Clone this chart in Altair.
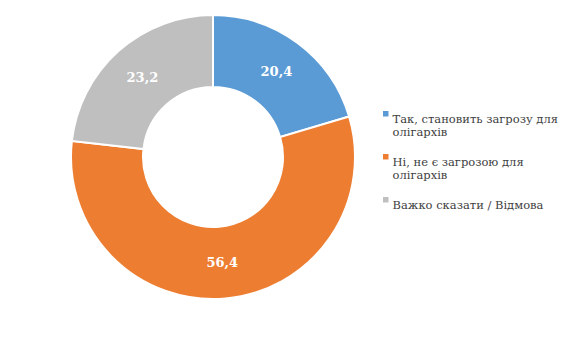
import altair as alt
import pandas as pd

categories = ["Так, становить загрозу для\nолігархів",
              "Ні, не є загрозою для\nолігархів",
              "Важко сказати / Відмова"]
values = [20.4, 56.4, 23.2]
colors = ["#5B9BD5", "#ED7D31", "#BFBFBF"]

FONT = "DejaVu Serif"

df = pd.DataFrame({"category": categories, "value": values, "order": [0, 1, 2]})

base = alt.Chart(df).encode(
    theta=alt.Theta("value:Q", stack=True),
    order=alt.Order("order:Q"),
)

arcs = base.mark_arc(outerRadius=142, innerRadius=70, stroke="white", strokeWidth=2).encode(
    color=alt.Color(
        "category:N",
        sort=categories,
        scale=alt.Scale(domain=categories, range=colors),
        legend=alt.Legend(
            title=None,
            orient="none",
            legendX=380,
            legendY=108,
            symbolType="square",
            symbolSize=30,
            symbolStrokeWidth=0,
            labelFont=FONT,
            labelFontSize=11.5,
            labelColor="#404040",
            labelLimit=300,
            labelOffset=1,
            rowPadding=12,
            labelExpr="split(datum.label, '\\n')",
            labelBaseline="top",
        ),
    )
)

labels = base.transform_calculate(
    lab="replace(format(datum.value, '.1f'), '.', ',')"
).mark_text(radius=106, font=FONT, fontSize=13, fontWeight="bold",
            color="white").encode(text="lab:N")

chart = (arcs + labels).properties(
    width=426, height=314,
    padding={"left": 0, "top": 0, "right": 157, "bottom": 30},
    autosize=alt.AutoSizeParams(type="none"),
).configure(
    view={"strokeOpacity": 0},
)

chart.save("out.html", embed_options={"renderer": "svg", "actions": False})
